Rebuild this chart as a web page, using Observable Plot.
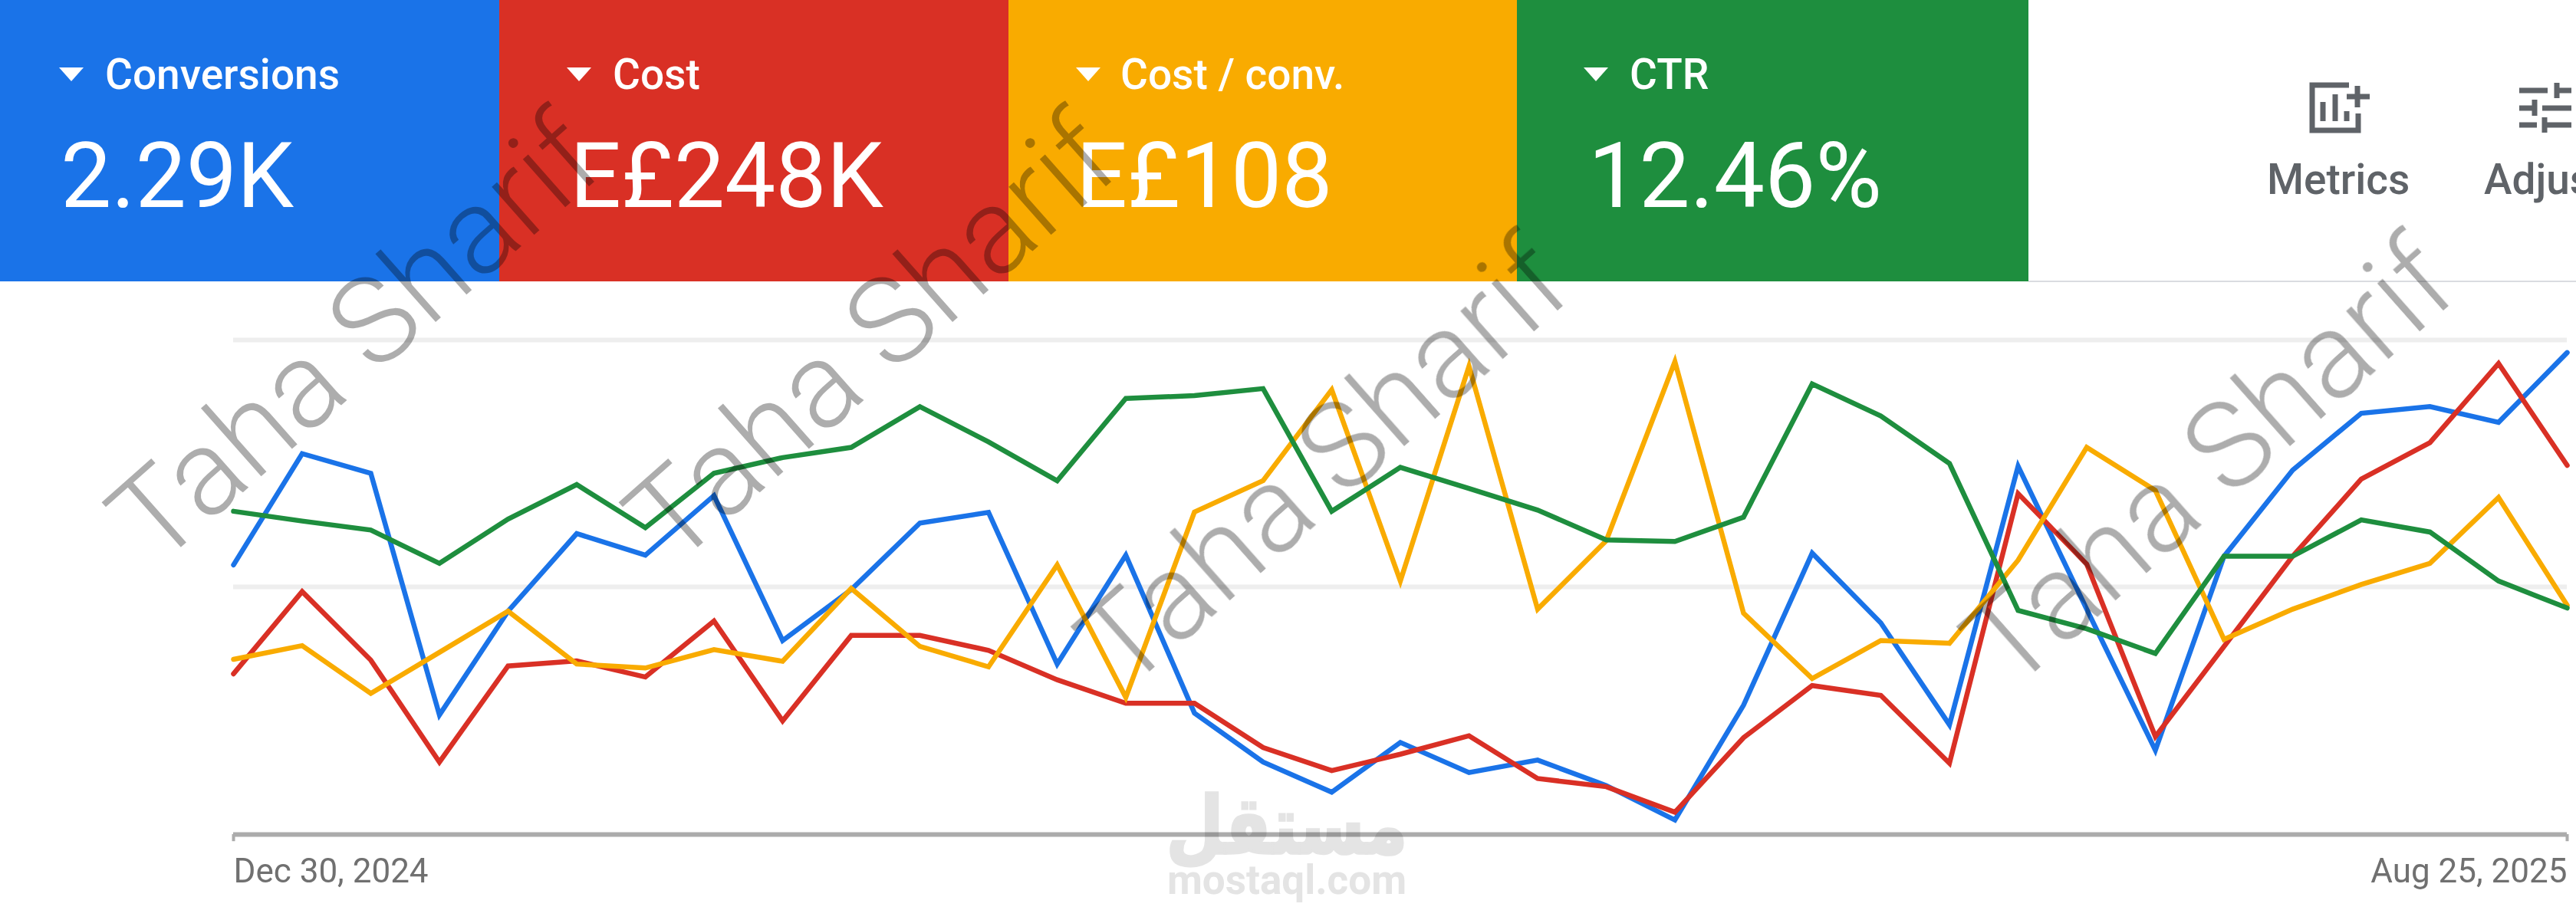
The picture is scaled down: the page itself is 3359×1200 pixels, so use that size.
<!DOCTYPE html>
<html><head><meta charset="utf-8">
<script src="https://cdn.jsdelivr.net/npm/d3@7"></script>
<script src="https://cdn.jsdelivr.net/npm/@observablehq/plot@0.6"></script>
<style>
html,body{margin:0;padding:0;background:#fff;width:3359px;height:1200px;overflow:hidden;font-family:Roboto,sans-serif}
#page{position:relative;width:3359px;height:1200px;overflow:hidden;filter:blur(.7px)}
.card{position:absolute;top:0;height:367px}
.label{position:absolute;top:67px;font-size:55px;line-height:60px;font-weight:500;white-space:nowrap;color:#fff}
.tri{position:absolute;top:88px;width:0;height:0;border-left:16px solid transparent;border-right:16px solid transparent;border-top:18px solid #fff}
.val{position:absolute;top:160px;font-size:118px;line-height:140px;font-weight:400;white-space:nowrap;color:#fff}
#rule{position:absolute;left:2645px;right:0;top:366px;height:2px;background:#dadce0}
#chart{position:absolute;left:0;top:367px}
.tool{position:absolute;top:205px;font-size:55px;line-height:58px;font-weight:500;color:#5f6368;white-space:nowrap}
.wm{position:absolute;font-size:158px;line-height:158px;font-weight:300;color:rgba(0,0,0,.32);-webkit-text-stroke:1.5px rgba(0,0,0,.0);white-space:nowrap;transform-origin:0 133px;pointer-events:none}
.mq{position:absolute;color:#e4e4e4;mix-blend-mode:multiply;font-weight:700;white-space:nowrap;pointer-events:none}
svg.icon{position:absolute}
</style></head><body><div id="page"></div>
<script>
const startDate = [2024, 11, 30];
const tickLabels = ["Dec 30, 2024", "Aug 25, 2025"];
const cardNames = ["Conversions", "Cost", "Cost / conv.", "CTR"];
const cardValues = ["2.29K", "E£248K", "E£108", "12.46%"];
const cardColors = ["#1a73e8", "#d93025", "#f9ab00", "#1e8e3e"];
const gridValues = [632, 1262];

const conversions = [688,972,922,305,570,768,713,865,495,625,795,822,435,713,310,185,108,235,158,190,125,37,330,718,540,280,940,575,215,710,930,1075,1092,1052,1230];
const cost = [410,620,445,185,430,443,402,545,290,508,508,470,395,335,335,222,163,205,252,143,122,57,247,380,355,182,870,690,250,480,710,907,1000,1202,942];
const costPerConv = [447,482,360,465,570,435,425,472,442,628,480,428,688,350,823,903,1135,647,1195,575,750,1207,565,398,495,488,700,988,878,498,575,638,692,860,585];
const ctr = [825,800,777,692,805,893,783,922,962,988,1092,1002,903,1113,1120,1138,825,937,883,828,752,748,810,1150,1068,947,572,525,462,710,710,803,772,647,578];

const dates = conversions.map((_, i) => new Date(Date.UTC(startDate[0], startDate[1], startDate[2] + 7 * i)));
const page = document.getElementById("page");
function el(cls, css, text){const d=document.createElement("div");d.className=cls;Object.assign(d.style,css);if(text!=null)d.textContent=text;page.appendChild(d);return d;}

const cardX = [0,651,1315,1978,2645];
const triX = [77,739,1403,2065];
const labelX = [137,799,1461,2125];
const valX = [79,743,1403,2071];
cardNames.forEach((n,i)=>{
  el("card",{left:cardX[i]+"px",width:(cardX[i+1]-cardX[i])+"px",background:cardColors[i]});
  el("tri",{left:triX[i]+"px"});
  el("label",{left:labelX[i]+"px"},n);
  el("val",{left:valX[i]+"px"},cardValues[i]);
});
el("",{},null).id="rule";

const line = (vals, stroke) => Plot.line(vals, {x:(d,i)=>dates[i], y:d=>d, stroke, strokeWidth:6.5, strokeLinejoin:"miter", strokeMiterlimit:8, curve:"linear"});
const first = dates[0], last = dates[dates.length-1];
const chart = Plot.plot({
  width:3359, height:833, marginLeft:0, marginRight:0, marginTop:0, marginBottom:0,
  x:{type:"utc", domain:[first, last], range:[304,3347], axis:null},
  y:{domain:[0,1262], range:[721,76], axis:null},
  style:{background:"transparent", overflow:"visible"},
  marks:[
    Plot.ruleY(gridValues,{x1:first,x2:last,stroke:"#eeeeee",strokeWidth:6}),
    Plot.ruleY([0],{x1:first,x2:last,stroke:"#ababab",strokeWidth:6}),
    Plot.ruleX([first,last],{y1:-18,y2:0,stroke:"#ababab",strokeWidth:4}),
    line(conversions,cardColors[0]), line(cost,cardColors[1]), line(costPerConv,cardColors[2]), line(ctr,cardColors[3]),
    Plot.text([tickLabels[0]],{x:()=>first,y:()=>0,dy:48,text:d=>d,textAnchor:"start",fontSize:44,fill:"#707070",fontFamily:"Roboto"}),
    Plot.text([tickLabels[1]],{x:()=>last,y:()=>0,dy:48,text:d=>d,textAnchor:"end",fontSize:44,fill:"#707070",fontFamily:"Roboto"})
  ]
});
chart.id="chart";
page.appendChild(chart);

// toolbar
el("tool",{left:"2956px",width:"184px",textAlign:"center"},"Metrics");
el("tool",{left:"3239px"},"Adjust");
page.insertAdjacentHTML("beforeend",`
<svg class="icon" style="left:3000px;top:100px" width="95" height="80" viewBox="0 0 95 80" fill="none" stroke="#5f6368" stroke-width="7">
<path d="M63 11H15V70H75V48"/><path d="M29 58V33M45 58V23M60 58V45"/><path d="M74 12V40M60 26H90"/></svg>
<svg class="icon" style="left:3280px;top:100px" width="79" height="80" viewBox="0 0 79 80" fill="none" stroke="#5f6368" stroke-width="7">
<path d="M5 18H42M54 8V28M54 18H73M5 41H25M25 30V51M35 41H73M5 63H28M38 53V73M38 63H73"/></svg>`);

// watermarks
[[204,609],[878,609],[1467,771],[2622,771]].forEach(([x,y])=>{
  el("wm",{left:x+"px",top:y+"px",transform:"rotate(-41.5deg)"},"Taha Sharif");
});
el("mq",{left:"1678px",top:"1022px",fontSize:"86px",lineHeight:"110px",fontFamily:"'DejaVu Sans'",transform:"translateX(-50%) scaleY(1.21)",webkitTextStroke:"3px #e4e4e4"},"مستقل");
el("mq",{left:"1678px",top:"1118px",fontSize:"53px",lineHeight:"60px",fontFamily:"Roboto",transform:"translateX(-50%)"},"mostaql.com");
</script></body></html>
